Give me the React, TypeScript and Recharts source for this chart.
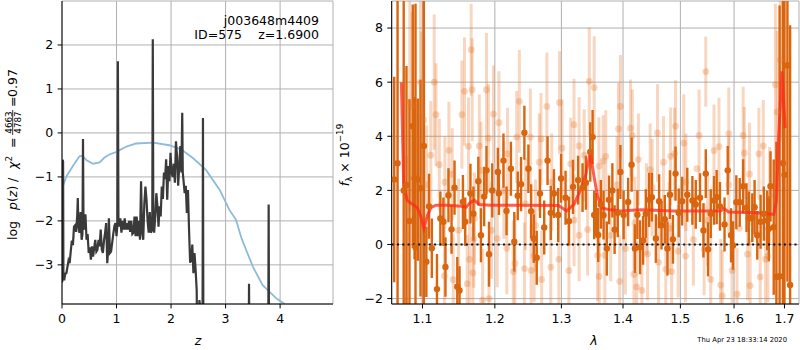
import React from 'react';
import { ComposedChart, Line, Scatter, ErrorBar, XAxis, YAxis, CartesianGrid, ReferenceLine } from 'recharts';

// left panel: log p(z)
const zGrid = [0, 0.008, 0.012, 0.02, 0.026, 0.04, 0.06, 0.08, 0.1, 0.12, 0.14, 0.16, 0.18, 0.2, 0.22, 0.24, 0.26, 0.28, 0.29, 0.3, 0.32, 0.34, 0.36, 0.375, 0.385, 0.395, 0.41, 0.43, 0.45, 0.47, 0.49, 0.51, 0.53, 0.55, 0.57, 0.59, 0.61, 0.63, 0.65, 0.67, 0.69, 0.71, 0.73, 0.75, 0.77, 0.79, 0.81, 0.83, 0.85, 0.86, 0.88, 0.9, 0.92, 0.94, 0.96, 0.98, 1.0, 1.015, 1.025, 1.035, 1.05, 1.07, 1.09, 1.11, 1.13, 1.15, 1.17, 1.19, 1.21, 1.23, 1.25, 1.27, 1.29, 1.31, 1.33, 1.35, 1.37, 1.39, 1.41, 1.43, 1.45, 1.47, 1.49, 1.51, 1.53, 1.55, 1.57, 1.59, 1.61, 1.63, 1.655, 1.665, 1.675, 1.69, 1.71, 1.73, 1.75, 1.77, 1.79, 1.81, 1.83, 1.85, 1.87, 1.89, 1.91, 1.93, 1.95, 1.97, 1.99, 2.01, 2.03, 2.05, 2.07, 2.09, 2.11, 2.13, 2.15, 2.17, 2.19, 2.205, 2.215, 2.23, 2.25, 2.27, 2.29, 2.31, 2.33, 2.35, 2.37, 2.39, 2.41, 2.43, 2.45, 2.47, 2.49, 2.52, 2.55, 2.575, 2.585, 2.595, 2.7, 3.42, 3.43, 3.44, 3.78, 3.79, 3.8, 4.2];
const logPz = [-3.4, -3.35, -0.61, -0.65, -3.3, -3.35, -3.2, -3.19, -3.05, -2.9, -2.96, -2.7, -2.45, -2.55, -2.13, -2.1, -2.25, -1.85, -1.48, -2.1, -2.27, -1.8, -2.43, -2.3, -0.14, -2.2, -2.13, -1.85, -2.43, -2.3, -2.73, -2.6, -2.88, -2.58, -2.81, -2.62, -2.43, -2.7, -2.66, -2.43, -2.58, -2.2, -2.65, -2.73, -2.45, -2.27, -2.05, -2.96, -2.6, -1.94, -2.73, -2.7, -2.5, -2.3, -2.13, -2.05, -2.35, -2.1, 1.63, -2.0, -2.13, -1.94, -2.27, -2.0, -2.2, -1.94, -2.2, -2.05, -2.2, -2.0, -2.25, -2.0, -2.3, -2.27, -1.9, -2.35, -1.9, -2.35, -2.0, -2.43, -1.1, -2.27, -2.43, -1.6, -1.22, -1.52, -2.0, -2.27, -1.8, -2.27, -2.2, 2.13, -2.0, -2.27, -1.9, -1.37, -1.67, -2.13, -1.67, -1.9, -1.22, -1.5, -0.9, -1.05, -0.6, -1.52, -0.75, -1.1, -0.45, -0.9, -1.0, -0.7, -1.13, -0.19, -0.53, -1.2, -0.76, -0.3, -0.9, 0.46, -0.9, -1.1, -1.37, -1.2, -1.82, -1.3, -2.2, -2.95, -2.88, -2.54, -3.19, -2.73, -3.1, -3.57, -6, -3.8, -4.2, -6, 0.34, -6, -6, -6, -3.43, -6, -6, -1.63, -6, -6];

const zSmooth = [0, 0.02, 0.08, 0.2, 0.32, 0.37, 0.45, 0.57, 0.69, 0.78, 0.87, 1.0, 1.18, 1.36, 1.67, 1.97, 2.19, 2.4, 2.64, 2.89, 3.07, 3.19, 3.29, 3.5, 3.68, 3.93, 4.08, 4.2];
const logPzSmooth = [-1.52, -1.2, -0.99, -0.75, -0.53, -0.52, -0.62, -0.7, -0.67, -0.56, -0.49, -0.43, -0.31, -0.24, -0.22, -0.28, -0.38, -0.57, -0.84, -1.29, -1.75, -1.97, -2.39, -3.04, -3.46, -3.76, -3.89, -4.0];

const zTicks = [0, 1, 2, 3, 4];
const pTicks = [-3, -2, -1, 0, 1, 2];

// right panel: spectrum
const darkLam = [1.0632, 1.0675, 1.0754, 1.079, 1.0829, 1.0872, 1.0895, 1.0908, 1.0938, 1.0974, 1.1018, 1.1051, 1.1087, 1.1124, 1.1193, 1.1239, 1.128, 1.1308, 1.1349, 1.1391, 1.1432, 1.147, 1.1501, 1.1548, 1.158, 1.1653, 1.1695, 1.1764, 1.1801, 1.1847, 1.188, 1.1916, 1.1963, 1.2044, 1.2059, 1.2125, 1.217, 1.2234, 1.2284, 1.2335, 1.2384, 1.2434, 1.2494, 1.2535, 1.2575, 1.262, 1.267, 1.2734, 1.2785, 1.2835, 1.2884, 1.295, 1.2995, 1.3065, 1.3118, 1.3183, 1.3264, 1.3335, 1.3389, 1.3459, 1.3497, 1.3523, 1.3551, 1.3588, 1.3632, 1.3676, 1.373, 1.3767, 1.3822, 1.3859, 1.3912, 1.3956, 1.401, 1.4087, 1.4145, 1.4202, 1.4244, 1.429, 1.4342, 1.4389, 1.4447, 1.4494, 1.4564, 1.4621, 1.4663, 1.4721, 1.4768, 1.4813, 1.4866, 1.4913, 1.497, 1.5032, 1.5125, 1.5218, 1.528, 1.5359, 1.5422, 1.5465, 1.5508, 1.5558, 1.5619, 1.5669, 1.5731, 1.5818, 1.5879, 1.5942, 1.598, 1.6044, 1.6109, 1.6176, 1.6242, 1.6287, 1.6355, 1.64, 1.6453, 1.6519, 1.6584, 1.6651, 1.6683, 1.6717, 1.6782, 1.6836, 1.6901, 1.6968, 1.7, 1.7061, 1.7116];
const darkFlux = [2.4, 3.0, 2.0, 2.2, 0.87, 4.37, 2.45, -0.1, 2.4, 2.08, 3.64, -0.64, 1.41, -0.14, -1.65, 0.96, 0.84, -0.83, 1.82, 0.56, 2.1, -1.56, -1.7, 1.57, 0.84, 1.88, 1.14, 2.34, 0.34, 1.77, 2.74, -0.36, 2.0, 2.68, 1.89, 3.1, 1.24, 2.8, 0.1, 1.8, 2.23, 4.13, 2.8, 1.23, 0.22, -0.49, 1.88, 0.63, 3.1, 1.17, 1.88, 1.09, 2.44, 1.73, 0.86, 2.13, 2.38, 2.1, 2.28, 3.42, 3.97, 1.09, 1.1, 0.35, 1.48, 1.08, -0.15, 1.65, 2.0, 0.55, 1.17, 2.68, 1.09, 1.57, 2.95, -0.15, 1.1, -0.1, 0.15, 1.14, 1.65, 1.75, 0.22, 1.6, 0.71, 0.93, -0.15, 1.84, 0.19, 2.62, 1.17, 1.6, 1.84, 1.63, 1.48, 1.73, 0.52, 2.62, -0.18, 1.14, 1.63, 1.75, 1.41, 0.74, 2.74, 0.34, -0.04, 1.56, 1.56, 2.15, 1.36, 0.96, 0.99, 1.38, 0.34, 0.84, 1.14, 0.89, 0.58, 2.15, 0.64, -1.2, -1.17, 3.0, 2.58, 6.62, -1.5];
const darkErr = [3.8, 10, 8, 4.4, 4.5, 4.5, 3.0, 9, 3.0, 4.0, 6, 1.3, 1.2, 1.1, 1.3, 1.0, 0.9, 1.1, 1.0, 0.9, 1.0, 1.1, 0.9, 1.0, 0.9, 1.1, 1.0, 0.9, 1.0, 1.1, 0.9, 1.2, 1.0, 0.9, 0.8, 1.0, 0.9, 1.0, 1.1, 0.9, 1.0, 1.0, 0.9, 1.0, 0.9, 1.0, 0.9, 1.0, 0.9, 1.0, 0.9, 1.0, 0.9, 1.0, 0.9, 1.0, 0.9, 0.9, 1.0, 1.1, 1.0, 0.9, 0.8, 1.0, 0.9, 0.9, 1.0, 0.9, 1.0, 0.9, 0.9, 1.0, 0.9, 0.9, 1.0, 0.9, 0.9, 1.0, 0.9, 0.9, 1.0, 0.9, 0.9, 1.0, 0.9, 0.9, 1.0, 0.9, 0.9, 1.0, 0.9, 0.9, 1.0, 0.9, 0.9, 0.9, 1.0, 0.9, 1.0, 0.9, 0.9, 1.0, 0.9, 1.0, 0.9, 1.0, 0.9, 1.0, 0.9, 1.0, 0.9, 1.0, 0.9, 1.0, 0.9, 1.0, 1.0, 1.1, 1.2, 1.3, 2.5, 5, 10, 12, 8, 8, 9.6];

const lightLam = [1.1156, 1.1663, 1.157, 1.188, 1.0974, 1.0833, 1.0864, 1.0983, 1.1018, 1.118, 1.1534, 1.1626, 1.1778, 1.1908, 1.1355, 1.1225, 1.14, 1.1801, 1.1055, 1.079, 1.0996, 1.1294, 1.1414, 1.164, 1.1686, 1.1608, 1.1825, 1.1916, 1.1488, 1.1709, 1.1953, 1.111, 1.1677, 1.2359, 1.2775, 1.297, 1.3443, 1.198, 1.2059, 1.232, 1.2524, 1.2685, 1.3011, 1.3199, 1.328, 1.3361, 1.2185, 1.2659, 1.3146, 1.2035, 1.2174, 1.2294, 1.2434, 1.2269, 1.2535, 1.2695, 1.2835, 1.296, 1.3118, 1.258, 1.328, 1.3416, 1.3523, 1.3956, 1.3924, 1.4127, 1.4157, 1.4593, 1.4913, 1.5061, 1.3713, 1.3669, 1.4262, 1.4698, 1.4825, 1.4895, 1.4464, 1.3578, 1.3697, 1.3605, 1.404, 1.4185, 1.3945, 1.4232, 1.432, 1.4611, 1.4738, 1.4843, 1.5093, 1.4419, 1.3794, 1.496, 1.5465, 1.5341, 1.5713, 1.5899, 1.6176, 1.6572, 1.6485, 1.62, 1.5619, 1.6915, 1.6816, 1.685, 1.5236, 1.5434, 1.5558, 1.5744, 1.5961, 1.6262, 1.6313, 1.6511, 1.6618, 1.6665, 1.6057, 1.5775, 1.213, 1.245, 1.285, 1.32, 1.39, 1.42, 1.45, 1.48, 1.51, 1.55, 1.59, 1.63, 1.67, 1.13, 1.17, 1.26, 1.36, 1.44, 1.53, 1.61];
const lightFlux = [6.0, 7.2, 5.66, 5.72, 6.0, 5.25, 5.1, 4.87, 4.6, 4.8, 4.8, 3.63, 3.64, 3.93, 3.48, 2.95, 2.6, 2.74, 2.2, 0.28, -0.64, -1.16, -1.3, -0.55, -1.05, -1.45, -2.06, -2.0, 0.53, 0.96, 0.53, 3.3, 5.72, 5.29, 5.1, 5.24, 6.03, 4.82, 4.5, 3.97, 3.97, 3.9, 3.56, 4.43, 3.64, 3.3, 3.35, 3.04, 2.98, 0.22, -0.14, -0.7, -0.89, -1.0, -0.96, -1.29, -0.84, -0.55, -0.97, -0.43, 0.34, 0.55, 5.8, 5.1, 4.27, 4.3, 4.03, 4.12, 4.37, 3.75, 3.26, 3.08, 3.14, 3.04, 3.26, 3.35, 2.77, -0.4, -0.4, -1.18, -0.15, -1.1, -1.36, -1.57, -1.7, -0.66, -0.92, -1.0, -0.43, -0.36, 0.34, -0.25, 6.39, 4.03, 3.62, 4.1, 4.03, 3.64, 3.35, 3.38, 3.47, 6.82, 5.9, 4.9, 0.18, -0.18, -1.29, -1.5, -0.96, -0.36, -1.52, -1.2, -0.55, -0.43, -1.84, -1.9, 2.0, 1.5, 2.3, 0.9, 2.2, 0.8, 2.1, 0.6, 2.3, 0.9, 2.2, 2.6, 1.8, 2.3, 0.2, 0.7, 2.9, 1.3, 2.8, 0.6];
const lightErr = [2.5, 1.7, 2.0, 2.1, 3.5, 4.0, 3.5, 3.0, 3.0, 1.9, 2.0, 1.8, 1.9, 2.0, 1.8, 1.7, 1.7, 1.8, 2.2, 3.0, 2.5, 1.8, 1.7, 1.9, 1.7, 1.8, 1.9, 1.7, 1.9, 1.7, 1.8, 2.0, 1.9, 1.9, 2.0, 1.9, 2.0, 1.8, 1.9, 1.7, 1.8, 1.7, 1.8, 1.7, 1.8, 1.7, 1.7, 1.8, 1.7, 1.8, 1.7, 1.8, 1.7, 1.9, 1.7, 1.8, 1.7, 1.8, 1.7, 1.7, 1.7, 1.7, 1.9, 1.9, 1.7, 1.8, 1.7, 1.8, 1.7, 1.8, 1.7, 1.7, 1.7, 1.7, 1.8, 1.7, 1.7, 1.7, 1.8, 1.7, 1.7, 1.8, 1.7, 1.7, 1.8, 1.7, 1.7, 1.8, 1.7, 1.7, 1.7, 1.7, 1.3, 1.7, 1.8, 1.7, 1.8, 1.7, 1.7, 1.7, 1.7, 3.0, 3.0, 3.0, 1.7, 1.7, 1.7, 1.7, 1.7, 1.7, 1.7, 1.7, 1.8, 1.7, 1.7, 1.7, 1.8, 1.7, 1.8, 1.7, 1.8, 1.7, 1.8, 1.7, 1.8, 1.7, 1.8, 1.9, 1.8, 1.7, 1.8, 1.7, 1.8, 1.7];

const modelLam = [1.0724, 1.0754, 1.0799, 1.0864, 1.093, 1.0974, 1.1018, 1.1065, 1.111, 1.118, 1.1341, 1.1525, 1.1594, 1.1649, 1.1709, 1.1778, 1.1939, 1.2384, 1.2955, 1.3081, 1.3199, 1.3308, 1.3389, 1.3459, 1.3514, 1.3578, 1.3659, 1.3794, 1.3956, 1.4302, 1.4883, 1.5744, 1.5806, 1.5899, 1.6453, 1.6782, 1.6836, 1.6881, 1.6949, 1.7014];
const modelFlux = [6.0, 2.2, 1.63, 1.5, 1.36, 1.08, 0.6, 1.06, 1.36, 1.45, 1.45, 1.41, 1.38, 1.55, 1.63, 1.48, 1.45, 1.45, 1.44, 1.24, 1.48, 2.05, 2.6, 3.4, 2.6, 1.77, 1.34, 1.28, 1.24, 1.28, 1.24, 1.24, 1.33, 1.2, 1.17, 1.11, 1.6, 4.0, 6.4, 4.3];

const lamTicks = [1.1, 1.2, 1.3, 1.4, 1.5, 1.6, 1.7];
const fTicks = [-2, 0, 2, 4, 6, 8];

const pzData = zGrid.map((z, i) => ({ z, p: logPz[i] }));
const smoothData = zSmooth.map((z, i) => ({ z, p: logPzSmooth[i] }));
const darkData = darkLam.map((x, i) => ({ x, y: darkFlux[i], err: darkErr[i] }));
const lightData = lightLam.map((x, i) => ({ x, y: lightFlux[i], err: lightErr[i] }));
const modelData = modelLam.map((x, i) => ({ x, y: modelFlux[i] }));

const FONT = 'DejaVu Sans';
const FS = 12.5;
const SMALL = 8.8;
const minus = (v: number) => String(v).replace('-', '\u2212');
const tickStyle = { fill: '#000', fontSize: FS, fontFamily: FONT };
const black = { stroke: '#000', strokeWidth: 1 };

const DARK = '#d9650f';
const LIGHT = '#e8782a';

const darkDot = (p: any) => <circle cx={p.cx} cy={p.cy} r={3.2} fill={DARK} />;
const lightDot = (p: any) => <circle cx={p.cx} cy={p.cy} r={3.4} fill={LIGHT} fillOpacity={0.3} />;

const PzPanel = () => (
  <ComposedChart width={340} height={350} margin={{ top: 1, right: 7, bottom: 16, left: 0 }}>
    <CartesianGrid stroke="#b0b0b0" strokeWidth={1} />
    <XAxis dataKey="z" type="number" domain={[0, 4.97]} ticks={zTicks} allowDataOverflow height={30}
      tickSize={4.4} tickMargin={6} tick={tickStyle} tickLine={black} axisLine={black} />
    <YAxis type="number" domain={[-3.89, 3.0]} ticks={pTicks} allowDataOverflow width={62}
      tickSize={4.4} tickMargin={4.4} tick={tickStyle} tickLine={black} axisLine={black} tickFormatter={minus} />
    <XAxis xAxisId="top" orientation="top" type="number" domain={[0, 1]} height={0} tick={false} tickLine={false} axisLine={black} />
    <YAxis yAxisId="right" orientation="right" type="number" domain={[0, 1]} width={0} tick={false} tickLine={false} axisLine={black} />
    <Line data={smoothData} dataKey="p" stroke="#8dbad9" strokeWidth={1.8} dot={false} isAnimationActive={false} />
    <Line data={pzData} dataKey="p" type="linear" stroke="#3a3a3a" strokeWidth={2.2} dot={false} isAnimationActive={false} />
  </ComposedChart>
);

const SpecPanel = () => (
  <ComposedChart width={465} height={350} margin={{ top: 1, right: 1, bottom: 16, left: 0 }}>
    <CartesianGrid stroke="#b0b0b0" strokeWidth={1} />
    <XAxis dataKey="x" type="number" scale="log" domain={[1.06, 1.73]} ticks={lamTicks} allowDataOverflow height={30}
      tickSize={4.4} tickMargin={6} tick={tickStyle} tickLine={black} axisLine={black} tickFormatter={(v: number) => v.toFixed(1)} />
    <YAxis dataKey="y" type="number" domain={[-2.2, 9]} ticks={fTicks} allowDataOverflow width={56.7}
      tickSize={4.4} tickMargin={4.4} tick={tickStyle} tickLine={black} axisLine={black} tickFormatter={minus} />
    <XAxis xAxisId="top" orientation="top" type="number" domain={[0, 1]} height={0} tick={false} tickLine={false} axisLine={black} />
    <YAxis yAxisId="right" orientation="right" type="number" domain={[0, 1]} width={0} tick={false} tickLine={false} axisLine={black} />
    <Scatter data={lightData} dataKey="y" shape={lightDot} isAnimationActive={false}>
      <ErrorBar dataKey="err" direction="y" width={0} stroke={LIGHT} strokeOpacity={0.3} strokeWidth={3} isAnimationActive={false} />
    </Scatter>
    <Scatter data={darkData} dataKey="y" shape={darkDot} isAnimationActive={false}>
      <ErrorBar dataKey="err" direction="y" width={0} stroke={DARK} strokeWidth={2.4} isAnimationActive={false} />
    </Scatter>
    <Line data={modelData} dataKey="y" type="linear" stroke="#ff2a1a" strokeOpacity={0.75} strokeWidth={3} dot={false} isAnimationActive={false} />
    <ReferenceLine y={0} stroke="#111" strokeWidth={2} strokeDasharray="2 3.3" />
  </ComposedChart>
);

export default function App() {
  return (
    <div style={{ position: 'absolute', left: 0, top: 0, width: 800, height: 350, background: '#fff', fontFamily: FONT }}>
      <style>{`.spec .recharts-errorBars, .spec .recharts-errorBar { clip-path: url(#specClip); }`}</style>
      <div style={{ position: 'absolute', left: 0, top: 0 }}><PzPanel /></div>
      <div className="spec" style={{ position: 'absolute', left: 335, top: 0 }}><SpecPanel /></div>
      <svg width={800} height={350} style={{ position: 'absolute', left: 0, top: 0, pointerEvents: 'none' }} fontFamily={FONT}>
        <defs>
          <clipPath id="specClip" clipPathUnits="userSpaceOnUse">
            <rect x={56.7} y={1} width={407.3} height={303} />
          </clipPath>
        </defs>
        <text x={319} y={25} fontSize={FS} textAnchor="end">j003648m4409</text>
        <text x={242} y={39} fontSize={FS} textAnchor="end">ID=575</text>
        <text x={319} y={39} fontSize={FS} textAnchor="end">z=1.6900</text>
        <g transform="translate(17,240) rotate(-90)" fontSize={FS}>
          <text x={0} y={0}>log</text>
          <text x={30} y={0}><tspan fontStyle="italic">p</tspan>(<tspan fontStyle="italic">z</tspan>)</text>
          <text x={58} y={0}>/</text>
          <text x={71} y={0}><tspan fontStyle="italic">χ</tspan><tspan fontSize={SMALL} dy={-5}>2</tspan></text>
          <text x={92} y={0}>=</text>
          <text x={117.5} y={-5.5} fontSize={SMALL} textAnchor="middle">4663</text>
          <line x1={105} x2={130} y1={-4.3} y2={-4.3} stroke="#000" strokeWidth={0.8} />
          <text x={117.5} y={3.5} fontSize={SMALL} textAnchor="middle">4787</text>
          <text x={133} y={0}>=</text>
          <text x={143} y={0}>0.97</text>
        </g>
        <g transform="translate(349,155) rotate(-90)">
          <text x={0} y={0} fontSize={FS} textAnchor="middle">
            <tspan fontStyle="italic">f</tspan><tspan fontSize={SMALL} dy={3}>λ</tspan>
            <tspan dy={-3}> × 10</tspan><tspan fontSize={SMALL} dy={-6}>−19</tspan>
          </text>
        </g>
        <text x={198} y={344.5} fontSize={FS} fontStyle="italic" textAnchor="middle">z</text>
        <text x={594} y={345} fontSize={FS} fontStyle="italic" textAnchor="middle">λ</text>
        <text x={787} y={342} fontSize={6.8} textAnchor="end">Thu Apr 23 18:33:14 2020</text>
      </svg>
    </div>
  );
}
